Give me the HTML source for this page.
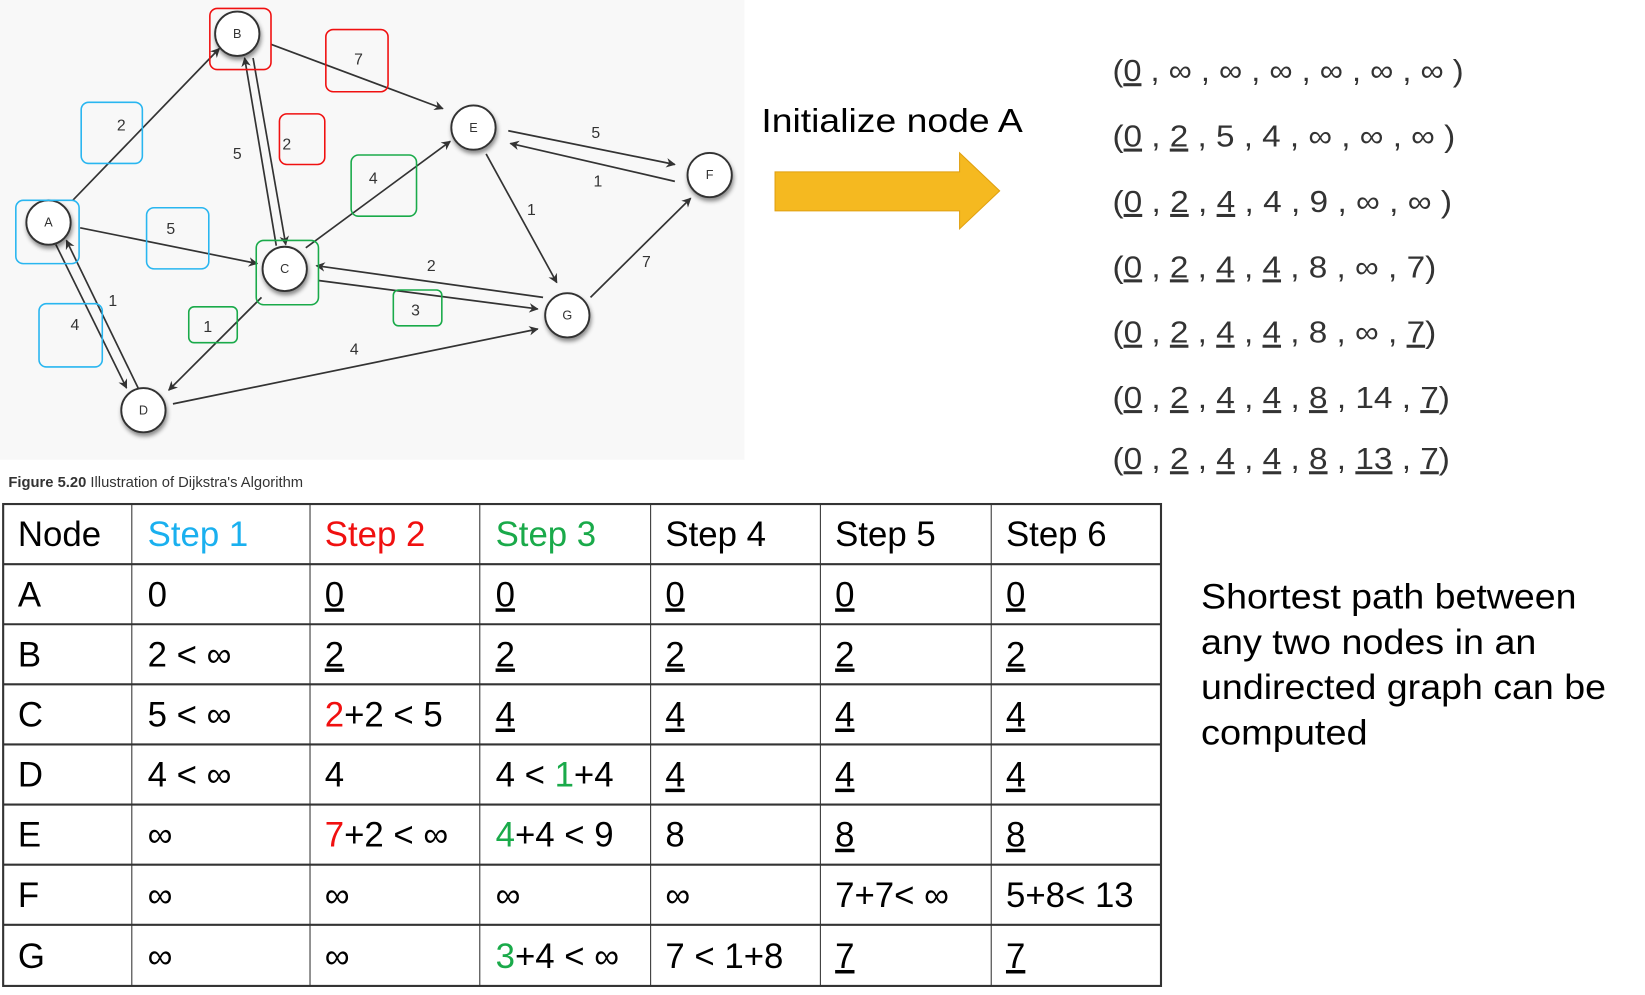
<!DOCTYPE html>
<html><head><meta charset="utf-8"><style>
html,body{margin:0;padding:0;background:#fff;width:1645px;height:995px;overflow:hidden}
svg{display:block}
text{font-family:"Liberation Sans",Arial,sans-serif}
.t{font-size:33px;fill:#000}
.v{font-size:29px;fill:#333}
.u{text-decoration:underline}
.el{font-size:15px;fill:#333}
.nl{font-size:12px;fill:#333}
</style></head><body>
<svg width="1645" height="995" viewBox="0 0 1560 943.6" preserveAspectRatio="none" xmlns="http://www.w3.org/2000/svg">
<defs>
<marker id="ar" viewBox="0 0 10 10" refX="9" refY="5" markerWidth="9" markerHeight="9" orient="auto" markerUnits="userSpaceOnUse"><path d="M0,0 L10,5 L0,10 L3,5 Z" fill="#333"/></marker>
<filter id="sh" x="-50%" y="-50%" width="200%" height="200%"><feDropShadow dx="1" dy="3" stdDeviation="2" flood-color="#000" flood-opacity="0.45"/></filter>
</defs>
<rect x="0" y="0" width="706" height="436" fill="#f8f8f8"/>
<g stroke="#333" stroke-width="1.6" fill="none" marker-end="url(#ar)">
<line x1="69" y1="190" x2="208" y2="46"/>
<line x1="257" y1="42" x2="420" y2="103"/>
<line x1="262" y1="233" x2="232" y2="55"/>
<line x1="240" y1="55" x2="271" y2="232"/>
<line x1="76" y1="216" x2="244" y2="250"/>
<line x1="290" y1="235" x2="427" y2="134"/>
<line x1="482" y1="124" x2="640" y2="156"/>
<line x1="640" y1="172" x2="484" y2="136"/>
<line x1="461" y1="146" x2="528" y2="268"/>
<line x1="302" y1="266" x2="510" y2="293"/>
<line x1="515" y1="282" x2="300" y2="252"/>
<line x1="560" y1="282" x2="655" y2="188"/>
<line x1="248" y1="282" x2="160" y2="370"/>
<line x1="164" y1="383" x2="510" y2="312"/>
<line x1="53" y1="232" x2="120" y2="368"/>
<line x1="131" y1="368" x2="63" y2="228"/>
</g>
<g fill="#fff" stroke="#333" stroke-width="1.8" filter="url(#sh)">
<circle cx="225" cy="32" r="21"/><circle cx="449" cy="121" r="21"/><circle cx="673" cy="166" r="21"/>
<circle cx="46" cy="211" r="21"/><circle cx="270" cy="255" r="21"/><circle cx="538" cy="299" r="21"/><circle cx="136" cy="389" r="21"/>
</g>
<g class="nl" text-anchor="middle">
<text x="225" y="36">B</text><text x="449" y="125">E</text><text x="673" y="170">F</text><text x="46" y="215">A</text><text x="270" y="259">C</text><text x="538" y="303">G</text><text x="136" y="393">D</text>
</g>
<g fill="none" stroke-width="1.5">
<rect x="15" y="190" width="60" height="60" rx="7" stroke="#29b6f0"/>
<rect x="77" y="97" width="58" height="58" rx="7" stroke="#29b6f0"/>
<rect x="139" y="197" width="59" height="58" rx="7" stroke="#29b6f0"/>
<rect x="37" y="288" width="60" height="60" rx="7" stroke="#29b6f0"/>
<rect x="199" y="8" width="58" height="58" rx="7" stroke="#f01010"/>
<rect x="309" y="28" width="59" height="59" rx="7" stroke="#f01010"/>
<rect x="265" y="108" width="43" height="48" rx="7" stroke="#f01010"/>
<rect x="243" y="228" width="59" height="61" rx="7" stroke="#1aaa4a"/>
<rect x="333" y="147" width="62" height="58" rx="7" stroke="#1aaa4a"/>
<rect x="179" y="291" width="46" height="34" rx="5" stroke="#1aaa4a"/>
<rect x="373" y="275" width="46" height="34" rx="5" stroke="#1aaa4a"/>
</g>
<g class="el" text-anchor="middle">
<text x="115" y="124">2</text><text x="225" y="151">5</text><text x="272" y="142">2</text><text x="340" y="61">7</text>
<text x="162" y="222">5</text><text x="354" y="174">4</text><text x="565" y="131">5</text><text x="567" y="177">1</text>
<text x="504" y="204">1</text><text x="409" y="257">2</text><text x="394" y="299">3</text><text x="613" y="253">7</text>
<text x="107" y="290">1</text><text x="71" y="313">4</text><text x="197" y="315">1</text><text x="336" y="336">4</text>
</g>
<text x="8" y="462" style="font-size:14px;fill:#333"><tspan font-weight="bold">Figure 5.20</tspan>  Illustration of Dijkstra's Algorithm</text>

<text x="722" y="125" style="font-size:32px;fill:#000" textLength="248" lengthAdjust="spacingAndGlyphs">Initialize node A</text>
<path d="M735,163 H910 V145 L948,181 L910,217 V200 H735 Z" fill="#f5b920" stroke="#e0a010" stroke-width="1"/>

<g class="v">
<text x="1055" y="77" textLength="333" lengthAdjust="spacingAndGlyphs">(<tspan class="u">0</tspan> , ∞ , ∞ , ∞ , ∞ , ∞ , ∞ )</text>
<text x="1055" y="139" textLength="325" lengthAdjust="spacingAndGlyphs">(<tspan class="u">0</tspan> , <tspan class="u">2</tspan> , 5 , 4 , ∞ , ∞ , ∞ )</text>
<text x="1055" y="201" textLength="322" lengthAdjust="spacingAndGlyphs">(<tspan class="u">0</tspan> , <tspan class="u">2</tspan> , <tspan class="u">4</tspan> , 4 , 9 , ∞ , ∞ )</text>
<text x="1055" y="263" textLength="307" lengthAdjust="spacingAndGlyphs">(<tspan class="u">0</tspan> , <tspan class="u">2</tspan> , <tspan class="u">4</tspan> , <tspan class="u">4</tspan> , 8 , ∞ , 7)</text>
<text x="1055" y="325" textLength="307" lengthAdjust="spacingAndGlyphs">(<tspan class="u">0</tspan> , <tspan class="u">2</tspan> , <tspan class="u">4</tspan> , <tspan class="u">4</tspan> , 8 , ∞ , <tspan class="u">7</tspan>)</text>
<text x="1055" y="387" textLength="320" lengthAdjust="spacingAndGlyphs">(<tspan class="u">0</tspan> , <tspan class="u">2</tspan> , <tspan class="u">4</tspan> , <tspan class="u">4</tspan> , <tspan class="u">8</tspan> , 14 , <tspan class="u">7</tspan>)</text>
<text x="1055" y="445" textLength="320" lengthAdjust="spacingAndGlyphs">(<tspan class="u">0</tspan> , <tspan class="u">2</tspan> , <tspan class="u">4</tspan> , <tspan class="u">4</tspan> , <tspan class="u">8</tspan> , <tspan class="u">13</tspan> , <tspan class="u">7</tspan>)</text>
</g>

<g stroke="#333" stroke-width="2" fill="none">
<rect x="3" y="478" width="1098" height="457"/>
<line x1="3" y1="535" x2="1101" y2="535"/><line x1="3" y1="592" x2="1101" y2="592"/>
<line x1="3" y1="649" x2="1101" y2="649"/><line x1="3" y1="706" x2="1101" y2="706"/>
<line x1="3" y1="763" x2="1101" y2="763"/><line x1="3" y1="820" x2="1101" y2="820"/>
<line x1="3" y1="877" x2="1101" y2="877"/>
</g>
<g stroke="#333" stroke-width="1" fill="none">
<line x1="125" y1="478" x2="125" y2="935"/><line x1="294" y1="478" x2="294" y2="935"/>
<line x1="455" y1="478" x2="455" y2="935"/><line x1="617" y1="478" x2="617" y2="935"/>
<line x1="778" y1="478" x2="778" y2="935"/><line x1="940" y1="478" x2="940" y2="935"/>
</g>
<g class="t">
<text x="17" y="518">Node</text><text x="140" y="518" fill="#1ab0ef">Step 1</text><text x="308" y="518" fill="#f01010">Step 2</text><text x="470" y="518" fill="#1aaa4a">Step 3</text><text x="631" y="518">Step 4</text><text x="792" y="518">Step 5</text><text x="954" y="518">Step 6</text>

<text x="17" y="575">A</text><text x="140" y="575">0</text><text x="308" y="575" class="u">0</text><text x="470" y="575" class="u">0</text><text x="631" y="575" class="u">0</text><text x="792" y="575" class="u">0</text><text x="954" y="575" class="u">0</text>

<text x="17" y="632">B</text><text x="140" y="632">2 &lt; ∞</text><text x="308" y="632" class="u">2</text><text x="470" y="632" class="u">2</text><text x="631" y="632" class="u">2</text><text x="792" y="632" class="u">2</text><text x="954" y="632" class="u">2</text>

<text x="17" y="689">C</text><text x="140" y="689">5 &lt; ∞</text><text x="308" y="689"><tspan fill="#f01010">2</tspan>+2 &lt; 5</text><text x="470" y="689" class="u">4</text><text x="631" y="689" class="u">4</text><text x="792" y="689" class="u">4</text><text x="954" y="689" class="u">4</text>

<text x="17" y="746">D</text><text x="140" y="746">4 &lt; ∞</text><text x="308" y="746">4</text><text x="470" y="746">4 &lt; <tspan fill="#1aaa4a">1</tspan>+4</text><text x="631" y="746" class="u">4</text><text x="792" y="746" class="u">4</text><text x="954" y="746" class="u">4</text>

<text x="17" y="803">E</text><text x="140" y="803">∞</text><text x="308" y="803"><tspan fill="#f01010">7</tspan>+2 &lt; ∞</text><text x="470" y="803"><tspan fill="#1aaa4a">4</tspan>+4 &lt; 9</text><text x="631" y="803">8</text><text x="792" y="803" class="u">8</text><text x="954" y="803" class="u">8</text>

<text x="17" y="860">F</text><text x="140" y="860">∞</text><text x="308" y="860">∞</text><text x="470" y="860">∞</text><text x="631" y="860">∞</text><text x="792" y="860">7+7&lt; ∞</text><text x="954" y="860">5+8&lt; 13</text>

<text x="17" y="918">G</text><text x="140" y="918">∞</text><text x="308" y="918">∞</text><text x="470" y="918"><tspan fill="#1aaa4a">3</tspan>+4 &lt; ∞</text><text x="631" y="918">7 &lt; 1+8</text><text x="792" y="918" class="u">7</text><text x="954" y="918" class="u">7</text>

<text x="1139" y="577" textLength="356" lengthAdjust="spacingAndGlyphs">Shortest path between</text>
<text x="1139" y="620" textLength="318" lengthAdjust="spacingAndGlyphs">any two nodes in an</text>
<text x="1139" y="663" textLength="384" lengthAdjust="spacingAndGlyphs">undirected graph can be</text>
<text x="1139" y="706" textLength="158" lengthAdjust="spacingAndGlyphs">computed</text>
</g>
</svg>
</body></html>
